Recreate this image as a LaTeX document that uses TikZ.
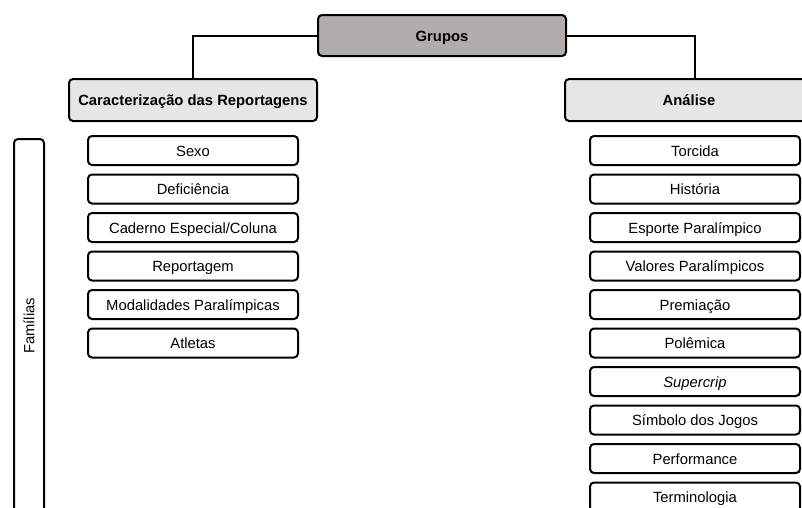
\documentclass[tikz,border=0pt]{standalone}
\usepackage{fontspec}
\setmainfont{Liberation Sans}
\begin{document}
\begin{tikzpicture}[x=1pt,y=-1pt,
  base/.style={draw=black, line width=2pt, rounded corners=4pt, inner sep=0pt,
    text height=12.5pt, text depth=1pt,
    font=\fontsize{14.8}{17}\selectfont, align=center},
  header/.style={base, minimum width=248pt, minimum height=42pt, fill=hdrgray, font=\fontsize{14.8}{17}\selectfont\bfseries},
  topbox/.style={base, minimum width=248pt, minimum height=41pt, fill=topgray, font=\fontsize{14.8}{17}\selectfont\bfseries},
  item/.style={base, minimum width=210pt, minimum height=29pt, fill=white},
  conn/.style={draw=black, line width=2pt}
]
\definecolor{hdrgray}{HTML}{E6E6E6}
\definecolor{topgray}{HTML}{B1ADAB}
\useasboundingbox (0,0) rectangle (802,507);
\clip (0,0) rectangle (802,507);

\node[topbox] (grupos) at (442,35.5) {Grupos};
\node[header] (car) at (193,100) {Caracterização das Reportagens};
\node[header] (ana) at (689,100) {Análise};

\node[base, text height=, text depth=, minimum width=30pt, minimum height=374pt] (fam) at (29,326) {};
\node[rotate=90, font=\fontsize{14.8}{17}\selectfont] (famtxt) at (29,326) {Famílias};

\node[item] (l1) at (193,150.5) {Sexo};
\node[item] (l2) at (193,189) {Deficiência};
\node[item] (l3) at (193,227.5) {Caderno Especial/Coluna};
\node[item] (l4) at (193,266) {Reportagem};
\node[item] (l5) at (193,304.5) {Modalidades Paralímpicas};
\node[item] (l6) at (193,343) {Atletas};

\node[item] (r1) at (695,150.5) {Torcida};
\node[item] (r2) at (695,189) {História};
\node[item] (r3) at (695,227.5) {Esporte Paralímpico};
\node[item] (r4) at (695,266) {Valores Paralímpicos};
\node[item] (r5) at (695,304.5) {Premiação};
\node[item] (r6) at (695,343) {Polêmica};
\node[item] (r7) at (695,381.5) {\itshape Supercrip};
\node[item] (r8) at (695,420) {Símbolo dos Jogos};
\node[item] (r9) at (695,458.5) {Performance};
\node[item] (r10) at (695,497) {Terminologia};

\draw[conn] (grupos.west) -| (car.north);
\draw[conn] (grupos.east) -| (r1.north |- ana.north);
\end{tikzpicture}
\end{document}
